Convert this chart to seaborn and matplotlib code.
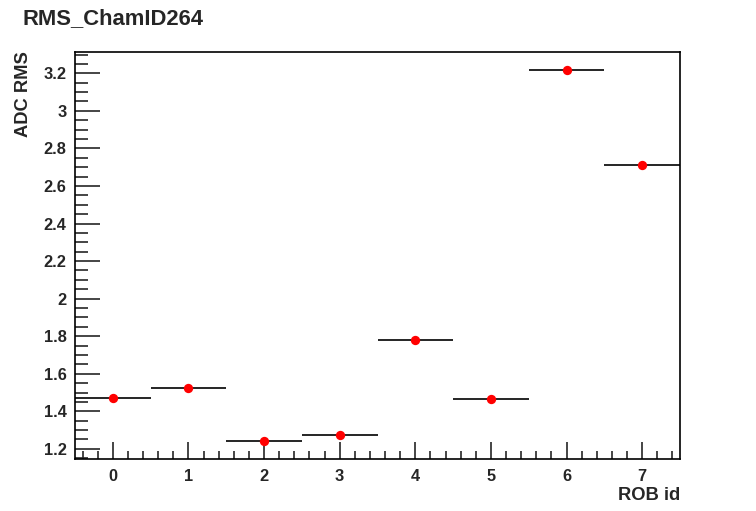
import numpy as np
import pandas as pd
import matplotlib
matplotlib.use("Agg")
import matplotlib.pyplot as plt
from matplotlib.ticker import MultipleLocator, FuncFormatter
import seaborn as sns

# ===============================
# DATA
# ===============================
rob_ids = [0, 1, 2, 3, 4, 5, 6, 7]
adc_rms = [1.469, 1.523, 1.240, 1.272, 1.780, 1.464, 3.216, 2.712]
bin_half_width = 0.5

title = "RMS_ChamID264"
x_label = "ROB id"
y_label = "ADC RMS"

df = pd.DataFrame({"rob": rob_ids, "rms": adc_rms})

# ===============================
# STYLE
# ===============================
sns.set_style("white")
plt.rcParams["font.family"] = ["Liberation Sans", "DejaVu Sans"]
plt.rcParams["font.weight"] = "bold"

fig = plt.figure(figsize=(7.56, 5.11), dpi=100)
ax = fig.add_axes([0.0992, 0.1018, 0.8003, 0.797])

# horizontal bin-width bars
ax.errorbar(df["rob"], df["rms"], xerr=bin_half_width, yerr=0.004,
            fmt="none", ecolor="black", elinewidth=1.2, capsize=0, zorder=2)
sns.scatterplot(data=df, x="rob", y="rms", ax=ax, color="red",
                s=45, edgecolor="red", linewidth=0, zorder=3, legend=False)

ax.set_xlim(-0.5, 7.5)
ax.set_ylim(1.146, 3.315)

ax.xaxis.set_major_locator(MultipleLocator(1))
ax.xaxis.set_minor_locator(MultipleLocator(0.2))
ax.yaxis.set_major_locator(MultipleLocator(0.2))
ax.yaxis.set_minor_locator(MultipleLocator(0.05))
ax.yaxis.set_major_formatter(FuncFormatter(lambda v, p: f"{v:g}"))

ax.tick_params(axis="x", which="major", direction="in", length=12, width=1.2,
               labelsize=11.8, pad=7, bottom=True, top=False)
ax.tick_params(axis="x", which="minor", direction="in", length=6, width=1.2,
               bottom=True, top=False)
ax.tick_params(axis="y", which="major", direction="in", length=18, width=1.2,
               labelsize=11.8, pad=6, left=True, right=False)
ax.tick_params(axis="y", which="minor", direction="in", length=9, width=1.2,
               left=True, right=False)
for lbl in ax.get_xticklabels() + ax.get_yticklabels():
    lbl.set_fontweight("bold")

for sp in ax.spines.values():
    sp.set_linewidth(1.2)
    sp.set_color("black")

ax.set_xlabel("")
ax.set_ylabel("")
fig.text(0.8995, 0.0215, x_label, ha="right", va="baseline", fontsize=13.2, fontweight="bold")
fig.text(0.0317, 0.900, y_label, ha="center", va="top", rotation=90,
         fontsize=13.2, fontweight="bold")
fig.text(0.030, 0.953, title, ha="left", va="baseline", fontsize=15.8, fontweight="bold")

fig.savefig("out.png", dpi=100)
